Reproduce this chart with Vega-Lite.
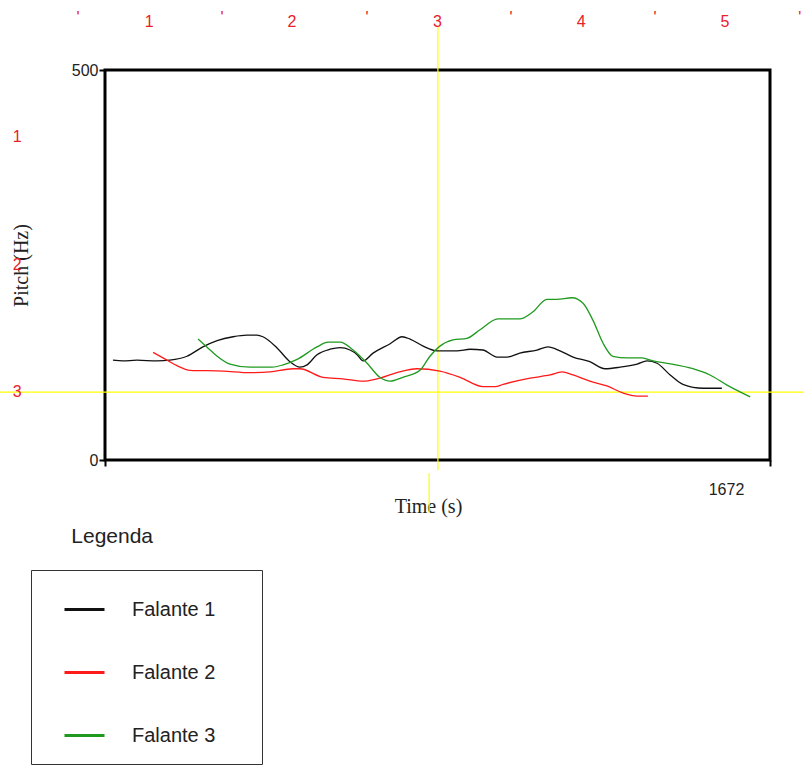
{
  "$schema": "https://vega.github.io/schema/vega-lite/v6.json",
  "width": 665,
  "height": 390,
  "autosize": {"type": "none"},
  "padding": {"left": 105, "top": 70, "right": 34, "bottom": 307},
  "background": "white",
  "config": {
    "view": {"stroke": "black", "strokeWidth": 3},
    "font": "Liberation Sans"
  },
  "datasets": {
    "pitch": [
      {"speaker": "Falante 1", "time": 20, "pitch": 128},
      {"speaker": "Falante 1", "time": 45, "pitch": 127},
      {"speaker": "Falante 1", "time": 80, "pitch": 128},
      {"speaker": "Falante 1", "time": 131, "pitch": 127},
      {"speaker": "Falante 1", "time": 163, "pitch": 128},
      {"speaker": "Falante 1", "time": 206, "pitch": 133},
      {"speaker": "Falante 1", "time": 246, "pitch": 145},
      {"speaker": "Falante 1", "time": 282, "pitch": 153},
      {"speaker": "Falante 1", "time": 322, "pitch": 158},
      {"speaker": "Falante 1", "time": 357, "pitch": 160},
      {"speaker": "Falante 1", "time": 382, "pitch": 160},
      {"speaker": "Falante 1", "time": 397, "pitch": 158},
      {"speaker": "Falante 1", "time": 432, "pitch": 144},
      {"speaker": "Falante 1", "time": 465, "pitch": 126},
      {"speaker": "Falante 1", "time": 490, "pitch": 119},
      {"speaker": "Falante 1", "time": 508, "pitch": 122},
      {"speaker": "Falante 1", "time": 533, "pitch": 135},
      {"speaker": "Falante 1", "time": 566, "pitch": 142},
      {"speaker": "Falante 1", "time": 591, "pitch": 144},
      {"speaker": "Falante 1", "time": 616, "pitch": 141},
      {"speaker": "Falante 1", "time": 634, "pitch": 135},
      {"speaker": "Falante 1", "time": 649, "pitch": 127},
      {"speaker": "Falante 1", "time": 674, "pitch": 137},
      {"speaker": "Falante 1", "time": 717, "pitch": 149},
      {"speaker": "Falante 1", "time": 747, "pitch": 158},
      {"speaker": "Falante 1", "time": 767, "pitch": 155},
      {"speaker": "Falante 1", "time": 800, "pitch": 146},
      {"speaker": "Falante 1", "time": 835, "pitch": 140},
      {"speaker": "Falante 1", "time": 885, "pitch": 140},
      {"speaker": "Falante 1", "time": 918, "pitch": 142},
      {"speaker": "Falante 1", "time": 950, "pitch": 141},
      {"speaker": "Falante 1", "time": 986, "pitch": 132},
      {"speaker": "Falante 1", "time": 1011, "pitch": 132},
      {"speaker": "Falante 1", "time": 1043, "pitch": 137},
      {"speaker": "Falante 1", "time": 1086, "pitch": 141},
      {"speaker": "Falante 1", "time": 1114, "pitch": 145},
      {"speaker": "Falante 1", "time": 1144, "pitch": 140},
      {"speaker": "Falante 1", "time": 1177, "pitch": 132},
      {"speaker": "Falante 1", "time": 1219, "pitch": 126},
      {"speaker": "Falante 1", "time": 1257, "pitch": 117},
      {"speaker": "Falante 1", "time": 1295, "pitch": 119},
      {"speaker": "Falante 1", "time": 1338, "pitch": 123},
      {"speaker": "Falante 1", "time": 1363, "pitch": 127},
      {"speaker": "Falante 1", "time": 1388, "pitch": 124},
      {"speaker": "Falante 1", "time": 1421, "pitch": 109},
      {"speaker": "Falante 1", "time": 1453, "pitch": 97},
      {"speaker": "Falante 1", "time": 1504, "pitch": 92},
      {"speaker": "Falante 1", "time": 1551, "pitch": 92},
      {"speaker": "Falante 2", "time": 121, "pitch": 138},
      {"speaker": "Falante 2", "time": 156, "pitch": 128},
      {"speaker": "Falante 2", "time": 181, "pitch": 121},
      {"speaker": "Falante 2", "time": 214, "pitch": 115},
      {"speaker": "Falante 2", "time": 297, "pitch": 114},
      {"speaker": "Falante 2", "time": 365, "pitch": 112},
      {"speaker": "Falante 2", "time": 415, "pitch": 113},
      {"speaker": "Falante 2", "time": 473, "pitch": 117},
      {"speaker": "Falante 2", "time": 490, "pitch": 117},
      {"speaker": "Falante 2", "time": 548, "pitch": 106},
      {"speaker": "Falante 2", "time": 598, "pitch": 104},
      {"speaker": "Falante 2", "time": 649, "pitch": 101},
      {"speaker": "Falante 2", "time": 684, "pitch": 104},
      {"speaker": "Falante 2", "time": 734, "pitch": 112},
      {"speaker": "Falante 2", "time": 784, "pitch": 117},
      {"speaker": "Falante 2", "time": 842, "pitch": 114},
      {"speaker": "Falante 2", "time": 893, "pitch": 106},
      {"speaker": "Falante 2", "time": 950, "pitch": 94},
      {"speaker": "Falante 2", "time": 981, "pitch": 94},
      {"speaker": "Falante 2", "time": 1001, "pitch": 97},
      {"speaker": "Falante 2", "time": 1069, "pitch": 105},
      {"speaker": "Falante 2", "time": 1119, "pitch": 109},
      {"speaker": "Falante 2", "time": 1149, "pitch": 113},
      {"speaker": "Falante 2", "time": 1177, "pitch": 109},
      {"speaker": "Falante 2", "time": 1219, "pitch": 101},
      {"speaker": "Falante 2", "time": 1262, "pitch": 95},
      {"speaker": "Falante 2", "time": 1302, "pitch": 86},
      {"speaker": "Falante 2", "time": 1338, "pitch": 82},
      {"speaker": "Falante 2", "time": 1365, "pitch": 82},
      {"speaker": "Falante 3", "time": 234, "pitch": 155},
      {"speaker": "Falante 3", "time": 256, "pitch": 145},
      {"speaker": "Falante 3", "time": 282, "pitch": 133},
      {"speaker": "Falante 3", "time": 314, "pitch": 123},
      {"speaker": "Falante 3", "time": 365, "pitch": 119},
      {"speaker": "Falante 3", "time": 420, "pitch": 119},
      {"speaker": "Falante 3", "time": 448, "pitch": 122},
      {"speaker": "Falante 3", "time": 483, "pitch": 129},
      {"speaker": "Falante 3", "time": 533, "pitch": 145},
      {"speaker": "Falante 3", "time": 561, "pitch": 151},
      {"speaker": "Falante 3", "time": 591, "pitch": 151},
      {"speaker": "Falante 3", "time": 624, "pitch": 141},
      {"speaker": "Falante 3", "time": 659, "pitch": 124},
      {"speaker": "Falante 3", "time": 691, "pitch": 106},
      {"speaker": "Falante 3", "time": 717, "pitch": 101},
      {"speaker": "Falante 3", "time": 749, "pitch": 106},
      {"speaker": "Falante 3", "time": 792, "pitch": 115},
      {"speaker": "Falante 3", "time": 817, "pitch": 133},
      {"speaker": "Falante 3", "time": 842, "pitch": 146},
      {"speaker": "Falante 3", "time": 875, "pitch": 154},
      {"speaker": "Falante 3", "time": 910, "pitch": 156},
      {"speaker": "Falante 3", "time": 943, "pitch": 167},
      {"speaker": "Falante 3", "time": 988, "pitch": 181},
      {"speaker": "Falante 3", "time": 1043, "pitch": 181},
      {"speaker": "Falante 3", "time": 1076, "pitch": 190},
      {"speaker": "Falante 3", "time": 1111, "pitch": 206},
      {"speaker": "Falante 3", "time": 1136, "pitch": 206},
      {"speaker": "Falante 3", "time": 1174, "pitch": 208},
      {"speaker": "Falante 3", "time": 1202, "pitch": 201},
      {"speaker": "Falante 3", "time": 1227, "pitch": 179},
      {"speaker": "Falante 3", "time": 1252, "pitch": 150},
      {"speaker": "Falante 3", "time": 1277, "pitch": 133},
      {"speaker": "Falante 3", "time": 1312, "pitch": 131},
      {"speaker": "Falante 3", "time": 1350, "pitch": 131},
      {"speaker": "Falante 3", "time": 1378, "pitch": 127},
      {"speaker": "Falante 3", "time": 1413, "pitch": 124},
      {"speaker": "Falante 3", "time": 1478, "pitch": 117},
      {"speaker": "Falante 3", "time": 1521, "pitch": 109},
      {"speaker": "Falante 3", "time": 1564, "pitch": 96},
      {"speaker": "Falante 3", "time": 1622, "pitch": 81}
    ],
    "cursor": [
      {"time": -264, "time2": 1757, "pitch": 87, "pitch2": 87},
      {"time": 837, "time2": 837, "pitch": 555, "pitch2": -13},
      {"time": 815, "time2": 815, "pitch": -17, "pitch2": -68}
    ],
    "ruler": [
      {"label": "'", "time": -68, "pitch": 567},
      {"label": "1", "time": 111, "pitch": 561},
      {"label": "'", "time": 294, "pitch": 567},
      {"label": "2", "time": 470, "pitch": 561},
      {"label": "'", "time": 659, "pitch": 567},
      {"label": "3", "time": 836, "pitch": 561},
      {"label": "'", "time": 1021, "pitch": 567},
      {"label": "4", "time": 1197, "pitch": 561},
      {"label": "'", "time": 1383, "pitch": 567},
      {"label": "5", "time": 1559, "pitch": 561},
      {"label": "'", "time": 1747, "pitch": 567},
      {"label": "1", "time": -221, "pitch": 414},
      {"label": "2", "time": -221, "pitch": 250},
      {"label": "3", "time": -221, "pitch": 87}
    ],
    "note": [
      {"label": "Legenda", "time": 18, "pitch": -99}
    ]
  },
  "layer": [
    {
      "data": {"name": "cursor"},
      "mark": {"type": "rule", "color": "#ffff00", "strokeWidth": 1.2},
      "encoding": {
        "x": {"field": "time", "type": "quantitative", "scale": {"domain": [0, 1672], "nice": false, "zero": false}},
        "x2": {"field": "time2"},
        "y": {"field": "pitch", "type": "quantitative", "scale": {"domain": [0, 500], "nice": false, "zero": false}},
        "y2": {"field": "pitch2"}
      }
    },
    {
      "data": {"name": "pitch"},
      "mark": {"type": "line", "strokeWidth": 1.3, "interpolate": "monotone"},
      "encoding": {
        "x": {
          "field": "time", "type": "quantitative",
          "scale": {"domain": [0, 1672], "nice": false, "zero": false},
          "axis": {
            "values": [0, 1672], "domain": false, "grid": false,
            "tickSize": 6, "tickWidth": 2, "tickColor": "black",
            "labelExpr": "datum.value == 1672 ? '1672' : ''",
            "labelFont": "Liberation Sans", "labelFontSize": 16, "labelColor": "#222",
            "labelBaseline": "middle", "labelAlign": "center", "labelOffset": -44, "labelPadding": 23,
            "title": "Time (s)", "titleFont": "Liberation Serif", "titleFontSize": 20,
            "titleFontWeight": "normal", "titleColor": "#222",
            "titleX": 323, "titleY": 46, "titleBaseline": "middle", "titleAlign": "center"
          }
        },
        "y": {
          "field": "pitch", "type": "quantitative",
          "scale": {"domain": [0, 500], "nice": false, "zero": false},
          "axis": {
            "values": [0, 500], "domain": false, "grid": false,
            "tickSize": 6, "tickWidth": 2, "tickColor": "black",
            "labelFont": "Liberation Sans", "labelFontSize": 16, "labelColor": "#222",
            "labelPadding": 1,
            "title": "Pitch (Hz)", "titleFont": "Liberation Serif", "titleFontSize": 20,
            "titleFontWeight": "normal", "titleColor": "#222",
            "titleX": -84, "titleY": 195, "titleAngle": -90, "titleBaseline": "middle", "titleAlign": "center"
          }
        },
        "color": {
          "field": "speaker", "type": "nominal",
          "scale": {"domain": ["Falante 1", "Falante 2", "Falante 3"], "range": ["#111111", "#ff1a1a", "#1f9a1f"]},
          "legend": {
            "orient": "none", "legendX": -74, "legendY": 500, "title": null,
            "strokeColor": "#333333", "padding": 18, "symbolOffset": 14,
            "symbolType": "stroke", "symbolSize": 1600, "symbolStrokeWidth": 3,
            "labelFont": "Liberation Sans", "labelFontSize": 20, "labelColor": "#222",
            "labelExpr": "datum.label + '\u00a0\u00a0\u00a0\u00a0\u00a0\u200b'",
            "labelOffset": 26, "rowPadding": 31
          }
        }
      }
    },
    {
      "data": {"name": "ruler"},
      "mark": {"type": "text", "color": "#e8202a", "font": "Liberation Sans", "fontSize": 16, "align": "center", "baseline": "middle"},
      "encoding": {
        "x": {"field": "time", "type": "quantitative", "scale": {"domain": [0, 1672], "nice": false, "zero": false}},
        "y": {"field": "pitch", "type": "quantitative", "scale": {"domain": [0, 500], "nice": false, "zero": false}},
        "text": {"field": "label"}
      }
    },
    {
      "data": {"name": "note"},
      "mark": {"type": "text", "color": "#222222", "font": "Liberation Sans", "fontSize": 21, "align": "center", "baseline": "middle"},
      "encoding": {
        "x": {"field": "time", "type": "quantitative", "scale": {"domain": [0, 1672], "nice": false, "zero": false}},
        "y": {"field": "pitch", "type": "quantitative", "scale": {"domain": [0, 500], "nice": false, "zero": false}},
        "text": {"field": "label"}
      }
    }
  ]
}
